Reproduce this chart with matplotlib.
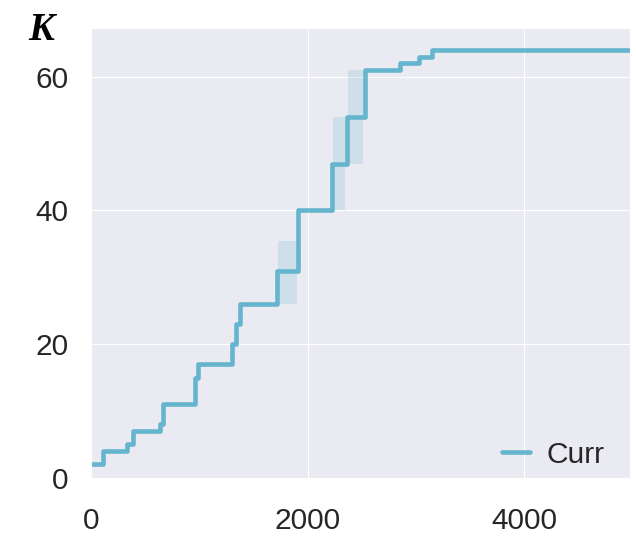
"""
Step plot of K over iterations for the 'Curr' run, with the min/max band
shaded behind it. Seaborn darkgrid look -> out.png.
"""
import matplotlib
matplotlib.use("Agg")
import matplotlib.pyplot as plt
import seaborn as sns

sns.set_style("darkgrid", {"grid.linewidth": 1.8})
plt.rcParams["font.family"] = ["Liberation Sans", "DejaVu Sans"]

# step positions (x where K jumps) and the K value from there on
step_x = [0, 110, 330, 385, 640, 668, 960, 990, 1300, 1340, 1377,
          1716, 1913, 2224, 2362, 2532, 2855, 3025, 3148, 5000]
step_k = [2, 4, 5, 7, 8, 11, 15, 17, 20, 23, 26,
          31, 40, 47, 54, 61, 62, 63, 64, 64]

# spread between runs, only visible in a few spots
band_start = [1730, 2232, 2370]
band_end = [1900, 2350, 2515]
band_lo = [26, 40, 47]
band_hi = [35.5, 54, 61]

COLOR = "#64B5CD"
FS = 21.5

fig = plt.figure(figsize=(6.36, 5.39), dpi=100)
ax = fig.add_axes([0.143, 0.111, 0.848, 0.837])

for x0, x1, lo, hi in zip(band_start, band_end, band_lo, band_hi):
    ax.fill_between([x0, x1], [lo, lo], [hi, hi], color=COLOR, alpha=0.2,
                    linewidth=0, zorder=1)

ax.step(step_x, step_k, where="post", color=COLOR, lw=3.3, label="Curr", zorder=2)

ax.set_xlim(0, 4980)
ax.set_ylim(-0.2, 67.3)
ax.set_xticks([0, 2000, 4000])
ax.set_yticks([0, 20, 40, 60])
ax.tick_params(axis="both", labelsize=FS, colors="#262626", length=0)
ax.tick_params(axis="y", pad=16)
ax.tick_params(axis="x", pad=20)

fig.text(0.065, 0.944, "K", family="Liberation Serif", style="italic",
         weight="bold", fontsize=28, ha="center", va="center", color="black")

leg = ax.legend(loc="lower right", fontsize=FS, frameon=False,
                handlelength=0.95, handletextpad=0.55, borderaxespad=0.0,
                bbox_to_anchor=(0.975, -0.003))

fig.savefig("out.png", dpi=100)
